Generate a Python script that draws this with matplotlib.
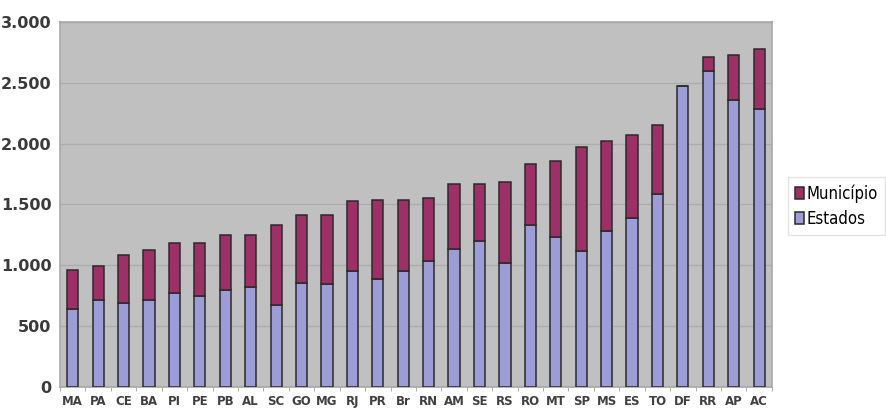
import numpy as np
import matplotlib
matplotlib.use("Agg")
import matplotlib.pyplot as plt
from matplotlib.ticker import FuncFormatter

# Unidades da federação, ordenadas pelo total
ufs = ["MA", "PA", "CE", "BA", "PI", "PE", "PB", "AL", "SC", "GO", "MG", "RJ", "PR", "Br",
       "RN", "AM", "SE", "RS", "RO", "MT", "SP", "MS", "ES", "TO", "DF", "RR", "AP", "AC"]

estados = [639, 715, 688, 715, 775, 748, 797, 825, 671, 857, 844, 956, 890, 956,
           1033, 1137, 1203, 1016, 1329, 1230, 1121, 1285, 1389, 1586, 2474, 2600, 2359, 2282]

total = [962, 995, 1088, 1126, 1186, 1186, 1252, 1252, 1331, 1411, 1411, 1526, 1537, 1537,
         1553, 1668, 1668, 1685, 1833, 1860, 1975, 2025, 2074, 2151, 2474, 2715, 2731, 2781]

municipio = [t - e for t, e in zip(total, estados)]

cor_estados = "#9c9cd6"
cor_municipio = "#9e3068"

fig = plt.figure(figsize=(8.86, 4.16), dpi=100)
ax = fig.add_axes([0.0677, 0.0697, 0.8035, 0.8775])
ax.set_facecolor("#c0c0c0")

x = np.arange(len(ufs))
b1 = ax.bar(x, estados, width=0.44, color=cor_estados, edgecolor="#2a2a2a", linewidth=1.1,
            label="Estados", zorder=3)
b2 = ax.bar(x, municipio, bottom=estados, width=0.44, color=cor_municipio, edgecolor="#2a2a2a",
            linewidth=1.1, label="Município", zorder=3)

ax.set_xlim(-0.5, len(ufs) - 0.5)
ax.set_ylim(0, 3000)
ax.set_yticks(np.arange(0, 3001, 500))
ax.yaxis.set_major_formatter(FuncFormatter(lambda v, p: f"{int(v):,}".replace(",", ".")))
ax.grid(axis="y", color="#adadad", linewidth=1.0, zorder=1)

ax.set_xticks(x)
ax.set_xticklabels(ufs)
ax.set_xticks(np.arange(-0.5, len(ufs), 1), minor=True)
ax.tick_params(axis="x", which="major", length=0, pad=6, labelsize=8.5, labelcolor="#404040")
ax.tick_params(axis="x", which="minor", length=3, color="#a0a0a0")
ax.tick_params(axis="y", length=0, pad=6, labelsize=11.5, labelcolor="#3a3a3a")
for lbl in ax.get_xticklabels() + ax.get_yticklabels():
    lbl.set_fontweight("bold")

for side in ["top", "right", "left", "bottom"]:
    ax.spines[side].set_color("#a8a8a8")
    ax.spines[side].set_linewidth(1.2)

leg = fig.legend([b2, b1], ["Município", "Estados"], loc="center left",
                 bbox_to_anchor=(0.889, 0.505), frameon=True, fancybox=False,
                 handlelength=0.55, handleheight=0.75, handletextpad=0.12, labelspacing=0.4,
                 borderpad=0.45, borderaxespad=0,
                 prop={"family": "DejaVu Sans", "stretch": "condensed", "size": 12})
leg.get_frame().set_edgecolor("#dcdcdc")

fig.savefig("out.png", dpi=100)
